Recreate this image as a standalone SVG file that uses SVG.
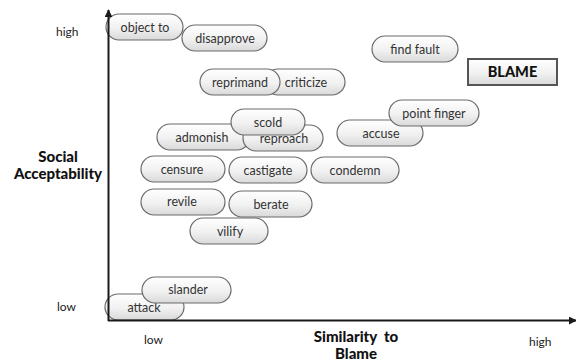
<svg xmlns="http://www.w3.org/2000/svg" width="576" height="360" viewBox="0 0 576 360">
  <defs>
    <linearGradient id="pillFill" x1="0" y1="0" x2="0" y2="1">
      <stop offset="0" stop-color="#ffffff"/>
      <stop offset="0.55" stop-color="#f1f1f1"/>
      <stop offset="1" stop-color="#d9d9d9"/>
    </linearGradient>
    <marker id="arrow" viewBox="0 0 10 10" refX="9" refY="5" markerWidth="4" markerHeight="4" orient="auto" markerUnits="strokeWidth">
      <path d="M0,0 L10,5 L0,10 z" fill="#1a1a1a"/>
    </marker>
    <style>
      .pill rect { fill: url(#pillFill); stroke: #6a6a6a; stroke-width: 1.2; }
      .pill text { font-family: Lato, "Open Sans", sans-serif; font-size: 12.5px; fill: #333; text-anchor: middle; }
      .axis { stroke: #1a1a1a; stroke-width: 2; fill: none; }
      .tick { font-family: Lato, "Open Sans", sans-serif; font-size: 12px; fill: #222; }
      .title { font-family: Lato, "Open Sans", sans-serif; font-size: 15px; font-weight: 900; fill: #111; text-anchor: middle; }
      .title.box { font-size: 14.5px; }
    </style>
  </defs>

  <rect width="576" height="360" fill="#ffffff"/>

  <!-- word nodes -->
  <g id="object-to" class="pill"><rect x="106" y="14" width="77" height="26" rx="13"/><text x="145" y="31.5">object to</text></g>
  <g id="disapprove" class="pill"><rect x="182" y="25" width="85" height="26" rx="13"/><text x="225" y="42.5">disapprove</text></g>
  <g id="criticize" class="pill"><rect x="265" y="69" width="80" height="26" rx="13"/><text x="306" y="86.5">criticize</text></g>
  <g id="reprimand" class="pill"><rect x="200" y="69" width="80" height="26" rx="13"/><text x="240" y="86.5">reprimand</text></g>
  <g id="find-fault" class="pill"><rect x="372" y="36" width="86" height="26" rx="13"/><text x="415" y="53.5">find fault</text></g>
  <g id="accuse" class="pill"><rect x="337" y="120" width="86" height="26" rx="13"/><text x="381" y="137.5">accuse</text></g>
  <g id="point-finger" class="pill"><rect x="389" y="100" width="90" height="26" rx="13"/><text x="434" y="117.5">point finger</text></g>
  <g id="admonish" class="pill"><rect x="157" y="124" width="93" height="26" rx="13"/><text x="202" y="141.5">admonish</text></g>
  <g id="reproach" class="pill"><rect x="243" y="125" width="80" height="26" rx="13"/><text x="284" y="142.5">reproach</text></g>
  <g id="scold" class="pill"><rect x="231" y="109" width="74" height="26" rx="13"/><text x="268" y="126.5">scold</text></g>
  <g id="censure" class="pill"><rect x="141" y="156" width="84" height="26" rx="13"/><text x="182" y="173.5">censure</text></g>
  <g id="castigate" class="pill"><rect x="229" y="157" width="78" height="26" rx="13"/><text x="268" y="174.5">castigate</text></g>
  <g id="condemn" class="pill"><rect x="311" y="157" width="88" height="26" rx="13"/><text x="355" y="174.5">condemn</text></g>
  <g id="revile" class="pill"><rect x="141" y="189" width="84" height="26" rx="13"/><text x="182" y="206">revile</text></g>
  <g id="berate" class="pill"><rect x="229" y="191" width="83" height="26" rx="13"/><text x="271" y="208.5">berate</text></g>
  <g id="vilify" class="pill"><rect x="190" y="218" width="78" height="26" rx="13"/><text x="230" y="235.5">vilify</text></g>
  <g id="attack" class="pill"><rect x="105" y="294" width="79" height="26" rx="13"/><text x="144" y="311.5">attack</text></g>
  <g id="slander" class="pill"><rect x="142" y="277" width="89" height="26" rx="13"/><text x="188" y="294">slander</text></g>

  <g id="blame">
    <rect x="468" y="59" width="89" height="26" fill="url(#pillFill)" stroke="#555" stroke-width="2"/>
    <text x="512.5" y="77" class="title box">BLAME</text>
  </g>

  <!-- axes -->
  <g id="connectors">
    <line class="axis" x1="108.5" y1="321" x2="108.5" y2="10" marker-end="url(#arrow)"/>
    <line class="axis" x1="108" y1="320.5" x2="576" y2="320.5" marker-end="url(#arrow)"/>
  </g>

  <!-- axis labels -->
  <g id="labels">
    <text class="tick" x="56" y="36">high</text>
    <text class="tick" x="57" y="311">low</text>
    <text class="title" x="58" y="162">Social</text>
    <text class="title" x="58" y="179">Acceptability</text>
    <text class="tick" x="144" y="344">low</text>
    <text class="title" x="356" y="342" xml:space="preserve">Similarity  to</text>
    <text class="title" x="356" y="358.5">Blame</text>
    <text class="tick" x="529" y="346">high</text>
  </g>
</svg>
